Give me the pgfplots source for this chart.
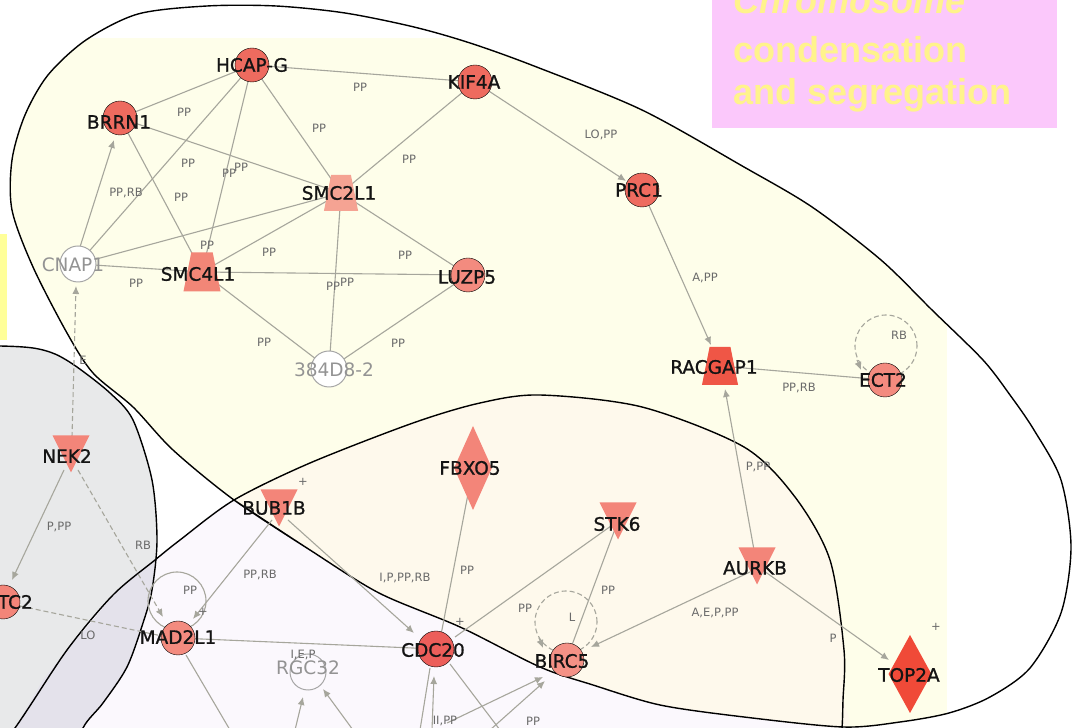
\documentclass[border=0pt]{standalone}
\usepackage{pgfplots}
\pgfplotsset{compat=1.18}
\usepackage{fontspec}
\setmainfont{DejaVu Sans}
\newfontfamily\boxfont{Liberation Sans}
\newfontfamily\nodefont[FakeBold=1]{DejaVu Sans}
\usetikzlibrary{arrows.meta}
\definecolor{creamc}{HTML}{FEFEEA}
\definecolor{peachc}{HTML}{FEF9EC}
\definecolor{lavc}{HTML}{FBF8FD}
\definecolor{greyc}{HTML}{E8E9EA}
\definecolor{ovlc}{HTML}{E4E2EB}
\definecolor{pinkc}{HTML}{FBC8FB}
\definecolor{boxyel}{HTML}{FFF38C}
\definecolor{stripe}{HTML}{FFFF99}
\definecolor{edgec}{HTML}{A6A69C}
\definecolor{labc}{HTML}{6A6A6A}
\definecolor{redA}{HTML}{EE6B5F}
\definecolor{redB}{HTML}{F38B7F}
\definecolor{redC}{HTML}{F38579}
\definecolor{redD}{HTML}{EC5E5A}
\definecolor{redE}{HTML}{F04A38}
\definecolor{trapA}{HTML}{F5A393}
\definecolor{trapB}{HTML}{F28677}
\definecolor{trapC}{HTML}{EF5646}
\pgfdeclareplotmark{itri}{\pgfpathmoveto{\pgfqpoint{-\pgfplotmarksize}{\pgfplotmarksize}}\pgfpathlineto{\pgfqpoint{\pgfplotmarksize}{\pgfplotmarksize}}\pgfpathlineto{\pgfqpoint{0pt}{-\pgfplotmarksize}}\pgfpathclose\pgfusepathqfill}
\pgfdeclareplotmark{trap}{\pgfpathmoveto{\pgfqpoint{-0.95\pgfplotmarksize}{-\pgfplotmarksize}}\pgfpathlineto{\pgfqpoint{0.95\pgfplotmarksize}{-\pgfplotmarksize}}\pgfpathlineto{\pgfqpoint{0.55\pgfplotmarksize}{\pgfplotmarksize}}\pgfpathlineto{\pgfqpoint{-0.55\pgfplotmarksize}{\pgfplotmarksize}}\pgfpathclose\pgfusepathqfill}
\pgfdeclareplotmark{dia}{\pgfpathmoveto{\pgfqpoint{0pt}{\pgfplotmarksize}}\pgfpathlineto{\pgfqpoint{0.45\pgfplotmarksize}{0pt}}\pgfpathlineto{\pgfqpoint{0pt}{-\pgfplotmarksize}}\pgfpathlineto{\pgfqpoint{-0.45\pgfplotmarksize}{0pt}}\pgfpathclose\pgfusepathqfill}
\pgfdeclareplotmark{diaw}{\pgfpathmoveto{\pgfqpoint{0pt}{\pgfplotmarksize}}\pgfpathlineto{\pgfqpoint{0.55\pgfplotmarksize}{0pt}}\pgfpathlineto{\pgfqpoint{0pt}{-\pgfplotmarksize}}\pgfpathlineto{\pgfqpoint{-0.55\pgfplotmarksize}{0pt}}\pgfpathclose\pgfusepathqfill}
\tikzset{
  edge/.style={no marks, draw=edgec, line width=1.1pt},
  arr/.style={-{Latex[length=8pt,width=7pt]}},
  dsh/.style={dash pattern=on 5pt off 3pt},
  elab/.style={font=\fontsize{11.5}{11.5}\selectfont, text=labc, inner sep=0pt},
  nlab/.style={font=\nodefont\fontsize{18.5}{18.5}\selectfont, text=black!92, inner sep=0pt},
  glab/.style={font=\fontsize{18.5}{18.5}\selectfont, text=gray!85, inner sep=0pt},
  outl/.style={no marks, draw=black, line width=1.4pt, smooth},
}
\begin{document}
\begin{tikzpicture}
\begin{axis}[x=1pt, y=1pt, y dir=reverse, xmin=0, xmax=1074, ymin=0, ymax=728, hide axis, clip=true, set layers]
% ---- regions ----
\addplot[draw=none, fill=greyc, smooth] coordinates {(-60,346) (0,346) (33,348) (55,354) (77,367) (110,393) (133,420) (152,480) (157,540) (152,590) (143,623) (127,667) (103,703) (83,728) (70,770) (-60,780) (-60,346)} -- cycle;
\addplot[draw=none, fill=lavc, smooth] coordinates {(-40,800) (15,728) (67,650) (113,595) (155,560) (180,540) (234,500) (310,463) (413,423) (480,403) (540,395) (642,407) (744,447) (795,497) (830,560) (844,650) (843,700) (841,740) (830,820) (600,870) (200,870) (-40,800)} -- cycle;
\addplot[draw=none, fill=ovlc] coordinates {(155,559) (152,590) (143,623) (127,667) (103,703) (83,728) (70,770) (-30,770) (15,728) (43,680) (67,650) (93,620) (113,595) (137,573) (155,559)} -- cycle;
\addplot[draw=none, fill=creamc, smooth] coordinates {(310,550) (234,500) (173,450) (133,407) (93,373) (67,333) (33,267) (12,210) (12,160) (25,115) (48,75) (86,40) (138,14) (207,6) (276,6) (345,13) (414,27) (470,43) (534,66) (642,110) (744,167) (812,207) (881,260) (932,310) (983,360) (1010,395) (1034,430) (1061,480) (1071,547) (1061,613) (1030,668) (990,697) (949,713) (900,722) (843,727) (744,717) (660,705) (593,685) (540,667) (460,627) (379,593) (310,550)} -- cycle;
\addplot[draw=none, fill=white] coordinates {(0,-5) (1080,-5) (1080,38) (0,38)} -- cycle;
\addplot[draw=none, fill=white] coordinates {(947,-5) (1080,-5) (1080,735) (947,735)} -- cycle;
\addplot[draw=none, fill=peachc, smooth] coordinates {(234,500) (310,463) (413,423) (480,403) (540,395) (642,407) (744,447) (795,497) (830,560) (844,650) (844,700) (843,727) (744,717) (660,705) (593,685) (540,667) (460,627) (379,593) (310,550) (234,500)} -- cycle;
% outlines
\addplot[outl] coordinates {(-60,346) (0,346) (33,348) (55,354) (77,367) (110,393) (133,420) (152,480) (157,540) (152,590) (143,623) (127,667) (103,703) (83,728) (70,770)};
\addplot[outl] coordinates {(-40,800) (15,728) (67,650) (113,595) (155,560) (180,540) (234,500) (310,463) (413,423) (480,403) (540,395) (642,407) (744,447) (795,497) (830,560) (844,650) (843,700) (841,740) (830,820)};
\addplot[outl] coordinates {(310,550) (234,500) (173,450) (133,407) (93,373) (67,333) (33,267) (12,210) (12,160) (25,115) (48,75) (86,40) (138,14) (207,6) (276,6) (345,13) (414,27) (470,43) (534,66) (642,110) (744,167) (812,207) (881,260) (932,310) (983,360) (1010,395) (1034,430) (1061,480) (1071,547) (1061,613) (1030,668) (990,697) (949,713) (900,722) (843,727) (744,717) (660,705) (593,685) (540,667) (460,627) (379,593) (310,550) (234,500)};
% pink box and stripe
\addplot[draw=none, fill=pinkc] coordinates {(712,-5) (1057,-5) (1057,128) (712,128)} -- cycle;
\addplot[draw=none, fill=stripe] coordinates {(-5,234) (7,234) (7,340) (-5,340)} -- cycle;
\node[anchor=base west, inner sep=0pt, text=boxyel, font=\boxfont\bfseries\itshape\fontsize{36}{36}\selectfont] at (733,14) {Chromosome};
\node[anchor=base west, inner sep=0pt, text=boxyel, font=\boxfont\bfseries\fontsize{36}{36}\selectfont] at (733,63) {condensation};
\node[anchor=base west, inner sep=0pt, text=boxyel, font=\boxfont\bfseries\fontsize{36}{36}\selectfont] at (733,105) {and segregation};
% ---- edges, top cluster ----
\addplot[edge] coordinates {(252,65) (475,82)};
\addplot[edge] coordinates {(252,65) (120,118)};
\addplot[edge] coordinates {(252,65) (341,193)};
\addplot[edge] coordinates {(252,65) (202,272)};
\addplot[edge] coordinates {(252,65) (78,264)};
\addplot[edge] coordinates {(120,118) (341,193)};
\addplot[edge] coordinates {(120,118) (202,272)};
\addplot[edge] coordinates {(475,82) (341,193)};
\addplot[edge] coordinates {(341,193) (78,264)};
\addplot[edge] coordinates {(341,193) (202,272)};
\addplot[edge] coordinates {(341,193) (468,275)};
\addplot[edge] coordinates {(341,193) (329,369)};
\addplot[edge] coordinates {(202,272) (468,275)};
\addplot[edge] coordinates {(202,272) (78,264)};
\addplot[edge] coordinates {(202,272) (329,369)};
\addplot[edge] coordinates {(468,275) (329,369)};
\addplot[edge, arr] coordinates {(80,247) (114,140)};
% ---- edges, right and bottom ----
\addplot[edge, arr] coordinates {(475,82) (626,181)};
\addplot[edge, arr] coordinates {(642,190) (711,345)};
\addplot[edge] coordinates {(720,366) (885,380)};
\addplot[edge, arr] coordinates {(754,550) (725,389)};
\addplot[edge, arr] coordinates {(757,566) (889,660)};
\addplot[edge, arr] coordinates {(750,572) (591,647)};
\addplot[edge] coordinates {(618,521) (572,645)};
\addplot[edge] coordinates {(618,521) (455,637)};
\addplot[edge] coordinates {(473,468) (440,640)};
\addplot[edge, arr] coordinates {(288,520) (414,633)};
\addplot[edge, arr] coordinates {(272,520) (193,619)};
\addplot[edge, dsh, arr] coordinates {(78,470) (163,617)};
\addplot[edge, arr] coordinates {(64,470) (12,580)};
\addplot[edge, dsh, arr] coordinates {(72,437) (76,286)};
\addplot[edge, dsh] coordinates {(20,606) (162,636)};
\addplot[edge] coordinates {(178,638) (436,649)};
\addplot[edge] coordinates {(186,655) (230,730)};
\addplot[edge] coordinates {(430,668) (420,730)};
\addplot[edge, arr] coordinates {(432,730) (434,676)};
\addplot[edge] coordinates {(450,664) (500,730)};
\addplot[edge, arr] coordinates {(447,723) (543,677)};
\addplot[edge, arr] coordinates {(490,730) (545,681)};
\addplot[edge, arr] coordinates {(295,730) (303,697)};
\addplot[edge, arr] coordinates {(353,730) (323,689)};
% self loops
\addplot[only marks, mark=o, mark size=31pt, mark options={draw=edgec, line width=1.1pt, dash pattern=on 5pt off 3pt}] coordinates {(886,346)};
\addplot[only marks, mark=o, mark size=31pt, mark options={draw=edgec, line width=1.1pt, dash pattern=on 5pt off 3pt}] coordinates {(566,622)};
\addplot[only marks, mark=o, mark size=29pt, mark options={draw=edgec, line width=1.1pt}] coordinates {(177,601)};
\addplot[edge, arr] coordinates {(857,360) (861,370)};
\addplot[edge, arr] coordinates {(539,638) (543,648)};
% ---- nodes ----
\addplot[only marks, mark=*, mark size=17pt, mark options={fill=redA, draw=none}] coordinates {(252,65) (475,82) (120,118) (642,190)};
\addplot[only marks, mark=*, mark size=17pt, mark options={fill=redB, draw=none}] coordinates {(468,275) (885,380) (178,638)};
\addplot[only marks, mark=*, mark size=17pt, mark options={fill=redC!90!white, draw=none}] coordinates {(567,660)};
\addplot[only marks, mark=*, mark size=17pt, mark options={fill=redC, draw=none}] coordinates {(3,602)};
\addplot[only marks, mark=*, mark size=18pt, mark options={fill=redD, draw=none}] coordinates {(436,649)};
\addplot[only marks, mark=*, mark size=18pt, mark options={fill=white, draw=gray!70, line width=1pt}] coordinates {(78,264) (329,369)};
\addplot[only marks, mark=*, mark size=18pt, mark options={fill=lavc, draw=gray!70, line width=1pt}] coordinates {(308,672)};
\addplot[only marks, mark=trap, mark size=18pt, mark options={fill=trapA, draw=none}] coordinates {(341,193)};
\addplot[only marks, mark=trap, mark size=19.5pt, mark options={fill=trapB, draw=none}] coordinates {(202,272)};
\addplot[only marks, mark=trap, mark size=19pt, mark options={fill=trapC, draw=none}] coordinates {(720,366)};
\addplot[only marks, mark=itri, mark size=18.5pt, mark options={fill=redC, draw=none}] coordinates {(71,454) (279,508) (618,521) (757,566)};
\addplot[only marks, mark=dia, mark size=42pt, mark options={fill=redC, draw=none}] coordinates {(473,468)};
\addplot[only marks, mark=diaw, mark size=39pt, mark options={fill=redE, draw=none}] coordinates {(910,674)};
% ---- node labels (foreground) ----
\begin{pgfonlayer}{axis foreground}
\node[nlab] at (252,65) {HCAP-G};
\node[nlab] at (474,82) {KIF4A};
\node[nlab] at (119,122) {BRRN1};
\node[nlab] at (339,193) {SMC2L1};
\node[nlab] at (198,274) {SMC4L1};
\node[glab] at (73,265) {CNAP1};
\node[nlab] at (467,277) {LUZP5};
\node[glab] at (334,370) {384D8-2};
\node[nlab] at (639,190) {PRC1};
\node[nlab] at (714,367) {RACGAP1};
\node[nlab] at (883,380) {ECT2};
\node[nlab] at (67,456) {NEK2};
\node[nlab] at (274,508) {BUB1B};
\node[nlab] at (470,468) {FBXO5};
\node[nlab] at (617,524) {STK6};
\node[nlab] at (755,568) {AURKB};
\node[nlab] at (909,675) {TOP2A};
\node[nlab, anchor=east] at (33,602) {TC2};
\node[nlab] at (178,637) {MAD2L1};
\node[nlab] at (433,650) {CDC20};
\node[nlab] at (562,661) {BIRC5};
\node[glab] at (308,668) {RGC32};
% ---- edge labels ----
\node[elab] at (360,87) {PP};
\node[elab] at (184,112) {PP};
\node[elab] at (319,128) {PP};
\node[elab] at (409,159) {PP};
\node[elab] at (188,163) {PP};
\node[elab] at (241,167) {PP};
\node[elab] at (229,173) {PP};
\node[elab] at (126,193) {PP,RB};
\node[elab] at (181,197) {PP};
\node[elab] at (207,245) {PP};
\node[elab] at (269,252) {PP};
\node[elab] at (405,255) {PP};
\node[elab] at (136,283) {PP};
\node[elab] at (333,286) {PP};
\node[elab] at (347,282) {PP};
\node[elab] at (264,342) {PP};
\node[elab] at (398,343) {PP};
\node[elab] at (601,135) {LO,PP};
\node[elab] at (705,278) {A,PP};
\node[elab] at (899,335) {RB};
\node[elab] at (799,388) {PP,RB};
\node[elab] at (758,467) {P,PP};
\node[elab] at (608,590) {PP};
\node[elab] at (715,613) {A,E,P,PP};
\node[elab] at (833,638) {P};
\node[elab] at (572,617) {L};
\node[elab] at (525,608) {PP};
\node[elab] at (467,570) {PP};
\node[elab] at (405,578) {I,P,PP,RB};
\node[elab] at (260,575) {PP,RB};
\node[elab] at (143,545) {RB};
\node[elab] at (59,527) {P,PP};
\node[elab] at (88,635) {LO};
\node[elab] at (83,360) {E};
\node[elab] at (190,590) {PP};
\node[elab] at (445,721) {II,PP};
\node[elab] at (533,721) {PP};
\node[elab] at (303,655) {I,E,P};
\node[elab] at (303,482) {+};
\node[elab] at (936,627) {+};
\node[elab] at (460,622) {+};
\node[elab] at (203,612) {+};
\end{pgfonlayer}
\end{axis}
\pgfresetboundingbox
\path[use as bounding box] (current axis.south west) rectangle (current axis.north east);
\end{tikzpicture}
\end{document}
